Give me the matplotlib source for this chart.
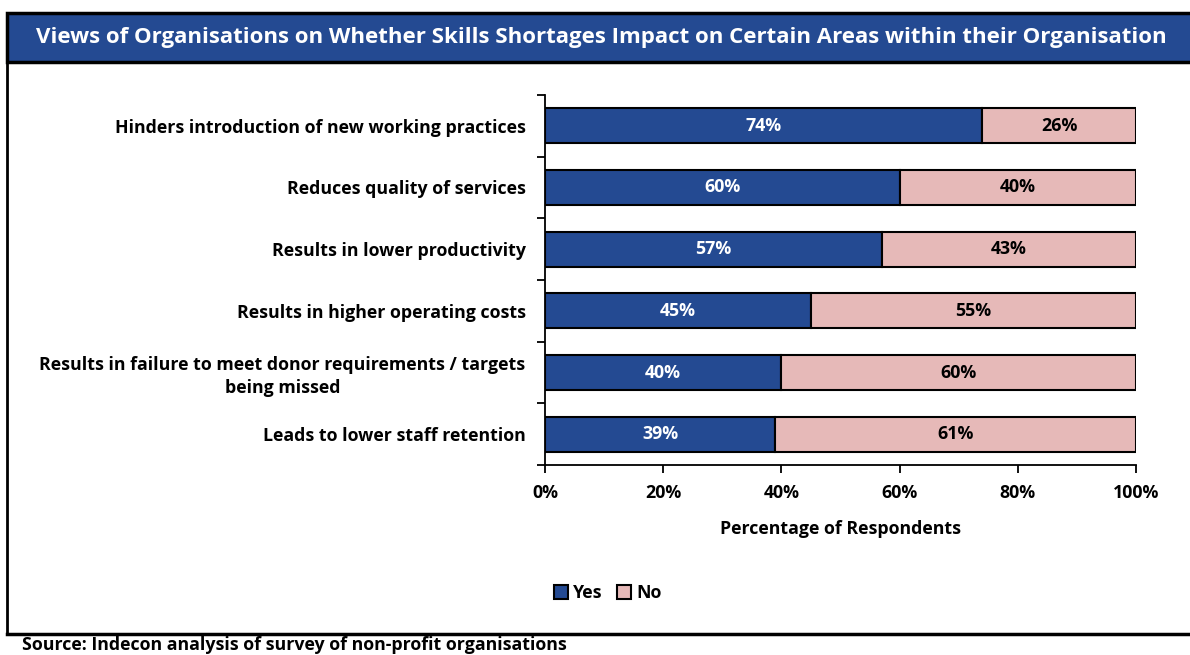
import matplotlib
matplotlib.use("Agg")
import matplotlib.pyplot as plt
from matplotlib.patches import Rectangle
from matplotlib.lines import Line2D
from matplotlib.ticker import FuncFormatter, MultipleLocator

plt.rcParams['font.family'] = ['Open Sans', 'DejaVu Sans']
plt.rcParams['font.weight'] = 'bold'

categories = [
    "Hinders introduction of new working practices",
    "Reduces quality of services",
    "Results in lower productivity",
    "Results in higher operating costs",
    "Results in failure to meet donor requirements / targets\nbeing missed",
    "Leads to lower staff retention",
]
yes_values = [74, 60, 57, 45, 40, 39]
no_values = [26, 40, 43, 55, 60, 61]

BLUE = "#244A92"
PINK = "#E6B9B8"
FS = 12.8

W, H = 1190, 655
fig = plt.figure(figsize=(W / 100, H / 100), dpi=100)

# Title banner
fig.patches.append(Rectangle((7 / W, 1 - 62 / H), 1.2, 49 / H, transform=fig.transFigure,
                             facecolor=BLUE, edgecolor="black", linewidth=2.5, zorder=0))
fig.text(601 / W, 1 - 38 / H, "Views of Organisations on Whether Skills Shortages Impact on Certain Areas within their Organisation",
         color="white", fontsize=16, fontweight="bold", ha="center", va="center")

# Frame lines
fig.lines.append(Line2D([7 / W, 7 / W], [1 - 62 / H, 1 - 634 / H], transform=fig.transFigure,
                        color="black", linewidth=2))
fig.lines.append(Line2D([7 / W, 1.0], [1 - 634 / H, 1 - 634 / H], transform=fig.transFigure,
                        color="black", linewidth=2.5))
fig.text(22 / W, 1 - 650 / H, "Source: Indecon analysis of survey of non-profit organisations",
         fontsize=FS, fontweight="bold", ha="left", va="baseline")

ax = fig.add_axes([545 / W, 1 - 465 / H, (1136 - 545) / W, (465 - 95) / H])
pos = list(range(len(categories)))
b1 = ax.barh(pos, yes_values, height=0.57, color=BLUE, edgecolor="black", linewidth=1.5, label="Yes")
b2 = ax.barh(pos, no_values, left=yes_values, height=0.57, color=PINK, edgecolor="black", linewidth=1.5, label="No")

for i, (y, n) in enumerate(zip(yes_values, no_values)):
    ax.text(y / 2, i, f"{y}%", color="white", fontsize=FS, fontweight="bold", ha="center", va="center")
    ax.text(y + n / 2, i, f"{n}%", color="black", fontsize=FS, fontweight="bold", ha="center", va="center")

ax.set_xlim(0, 100)
ax.set_ylim(len(categories) - 0.5, -0.5)
ax.xaxis.set_major_locator(MultipleLocator(20))
ax.xaxis.set_major_formatter(FuncFormatter(lambda v, p: f"{v:.0f}%"))
ax.set_yticks([p - 0.5 for p in pos] + [len(categories) - 0.5])
ax.set_yticklabels([])
ax.set_yticks(pos, minor=True)
ax.set_yticklabels(categories, minor=True, fontsize=FS, fontweight="bold", ha="right",
                   multialignment="center", linespacing=1.35)
ax.tick_params(axis="y", which="minor", length=0, pad=14)
ax.tick_params(axis="y", which="major", length=6, width=1.3, direction="out")
ax.tick_params(axis="x", length=6, width=1.3, direction="out", labelsize=FS, pad=8)
for lab in ax.get_xticklabels():
    lab.set_fontweight("bold")
for s in ["top", "right"]:
    ax.spines[s].set_visible(False)
ax.spines["left"].set_linewidth(1.3)
ax.spines["bottom"].set_linewidth(1.3)
ax.set_xlabel("Percentage of Respondents", fontsize=FS, fontweight="bold", labelpad=13)

fig.legend(handles=[b1, b2], labels=["Yes", "No"], loc="center", bbox_to_anchor=(608 / W, 1 - 593 / H),
           ncol=2, frameon=False, handlelength=0.8, handleheight=0.8,
           handletextpad=0.3, columnspacing=0.8, prop={"weight": "bold", "size": FS})

fig.savefig("out.png", dpi=100)
